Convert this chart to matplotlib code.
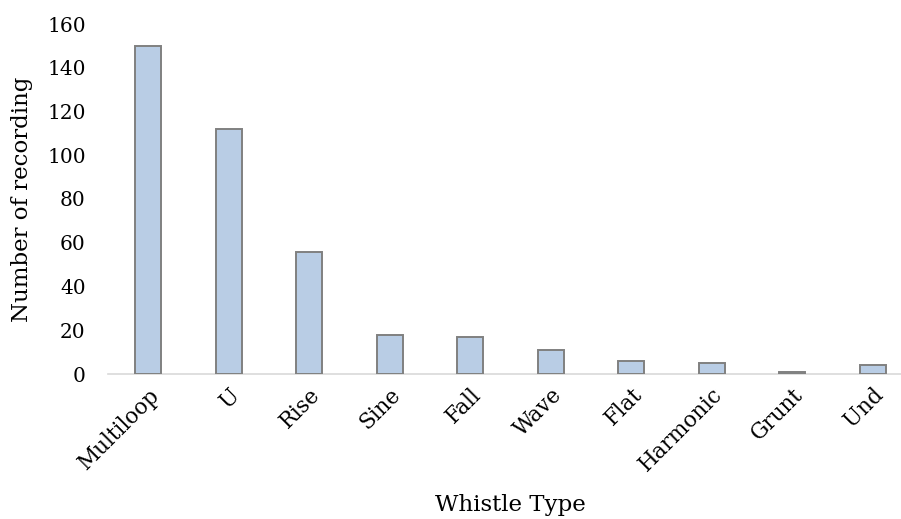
import numpy as np
import matplotlib
matplotlib.use("Agg")
import matplotlib.pyplot as plt

# whistle type counts
whistle_types = ["Multiloop", "U", "Rise", "Sine", "Fall", "Wave", "Flat", "Harmonic", "Grunt", "Und"]
counts = [150, 112, 56, 18, 17, 11, 6, 5, 1, 4]
y_ticks = [0, 20, 40, 60, 80, 100, 120, 140, 160]

plt.rcParams["font.family"] = ["DejaVu Serif"]

fig = plt.figure(figsize=(9.01, 5.19), dpi=100)
ax = fig.add_axes([108 / 901, 1 - 374 / 519, 805 / 901, 350 / 519])

x = np.arange(len(whistle_types))
ax.bar(x, counts, width=0.32, color="#b9cde5", edgecolor="#808080", linewidth=1.4, zorder=3)

ax.set_xlim(-0.5, len(whistle_types) - 0.5)
ax.set_ylim(0, 160)
ax.set_yticks(y_ticks)
ax.set_xticks(x)
ax.set_xticklabels(whistle_types, rotation=45, ha="right", rotation_mode="anchor", fontsize=15.5)
ax.tick_params(axis="y", labelsize=14.5, length=0, pad=16)
ax.tick_params(axis="x", length=0, pad=7)

for side in ["top", "right", "left"]:
    ax.spines[side].set_visible(False)
ax.spines["bottom"].set_color("#d9d9d9")
ax.spines["bottom"].set_linewidth(1.2)

ax.set_ylabel("Number of recording", fontsize=16.5)
ax.yaxis.set_label_coords(-(108 - 33) / 805, 0.5)
ax.set_xlabel("Whistle Type", fontsize=16.5)
ax.xaxis.set_label_coords(402 / 805, -(494 - 374) / 350)

fig.savefig("out.png", dpi=100)
